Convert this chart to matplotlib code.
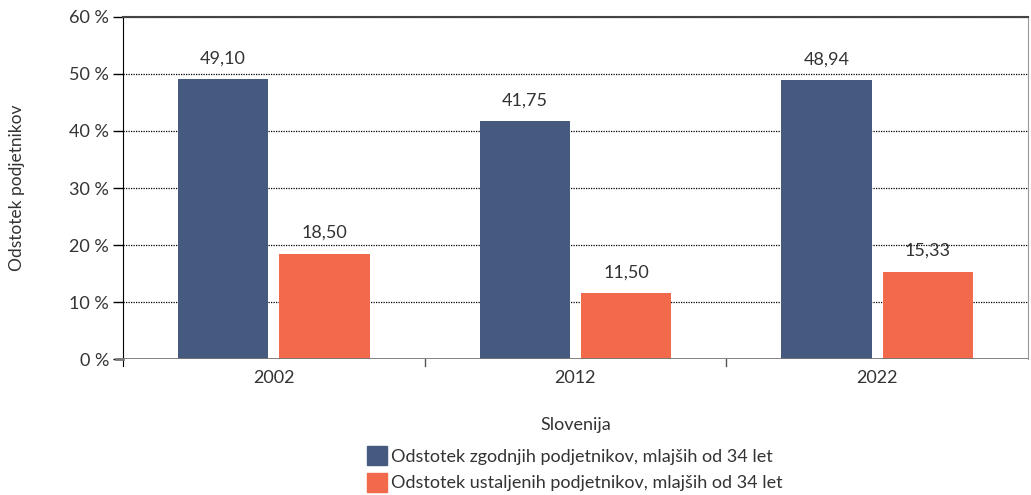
import numpy as np
import matplotlib.pyplot as plt
from matplotlib.patches import Patch

years = ["2002", "2012", "2022"]
early = [49.10, 41.75, 48.94]
established = [18.50, 11.50, 15.33]
series_names = ["Odstotek zgodnjih podjetnikov, mlajših od 34 let",
                "Odstotek ustaljenih podjetnikov, mlajših od 34 let"]
yticks = [0, 10, 20, 30, 40, 50, 60]

blue = "#465a80"
orange = "#f2694b"
txt = "#333333"

plt.rcParams['font.family'] = ['Lato', 'DejaVu Sans']

fig = plt.figure(figsize=(10.31, 4.95), dpi=100)
ax = fig.add_axes([0.1193, 0.2747, 0.8777, 0.691])

x = np.arange(len(years))
w = 0.30
off = 0.168
b1 = ax.bar(x - off, early, w, color=blue, zorder=3)
b2 = ax.bar(x + off, established, w, color=orange, zorder=3)

for bars, vals in [(b1, early), (b2, established)]:
    for r, v in zip(bars, vals):
        ax.text(r.get_x() + r.get_width() / 2, v + 2.2, f"{v:.2f}".replace(".", ","),
                ha="center", va="bottom", fontsize=13, color=txt)

ax.set_xlim(-0.5, 2.5)
ax.set_ylim(0, 60)
ax.set_yticks(yticks)
ax.set_yticklabels([f"{t} %" for t in yticks], fontsize=13, color=txt)
ax.yaxis.grid(True, linestyle=(0, (1, 1)), color="black", linewidth=0.9, zorder=0)
ax.tick_params(axis="y", length=7, width=1, color="black", pad=3)

ax.set_xticks(x)
ax.set_xticklabels(years, fontsize=13, color=txt)
ax.tick_params(axis="x", length=0, pad=8)
for b in [0.5, 1.5]:
    ax.plot([b, b], [0, -0.02], transform=ax.get_xaxis_transform(), color="#555555",
            linewidth=1, clip_on=False)

ax.spines["left"].set_color("black")
ax.spines["left"].set_bounds(-1.3, 60)
ax.spines["top"].set_color("#444444")
ax.spines["top"].set_linewidth(1.5)
ax.spines["right"].set_color("#999999")
ax.spines["bottom"].set_visible(False)
ax.axhline(0, color="#777777", linewidth=2, zorder=4)
ax.plot([-0.5 - 0.023, -0.5], [0, 0], color="#777777", linewidth=2, clip_on=False, zorder=4)

ax.set_ylabel("Odstotek podjetnikov", fontsize=12.5, color=txt)
ax.yaxis.set_label_coords(-0.108, 0.5)
ax.set_xlabel("Slovenija", fontsize=13, color=txt, labelpad=22)

handles = [Patch(color=blue), Patch(color=orange)]
fig.legend(handles, series_names, loc="upper left", bbox_to_anchor=(0.356, 0.098),
           frameon=False, fontsize=13, handlelength=1.1, handleheight=1.2,
           handletextpad=0.25, labelspacing=0.45, borderaxespad=0, borderpad=0,
           labelcolor=txt)

fig.savefig("out.png", dpi=100)
